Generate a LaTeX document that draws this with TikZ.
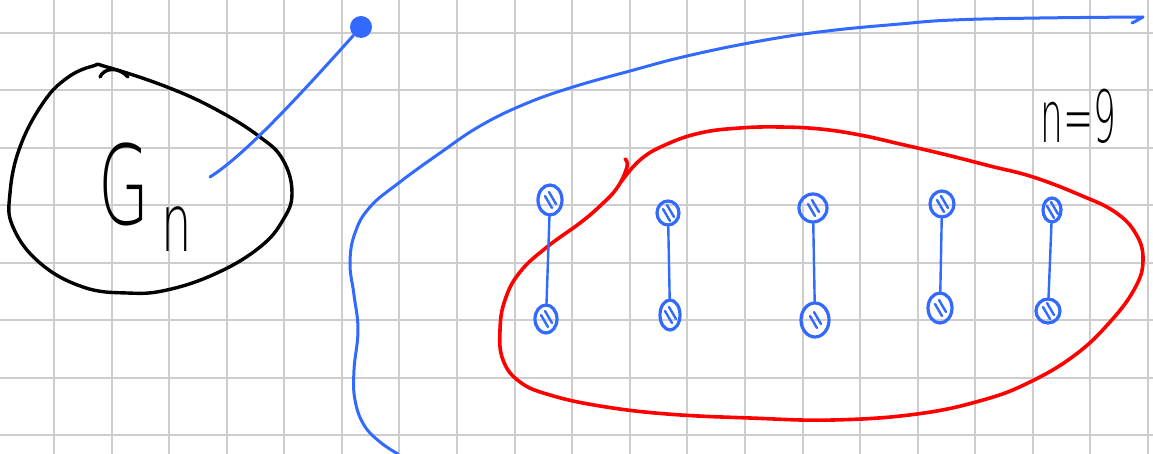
\documentclass[tikz,border=0pt]{standalone}
\usepackage{fontspec}
\usepackage{graphicx}
\usetikzlibrary{shapes.geometric}
\IfFontExistsTF{DejaVu Sans ExtraLight}{\newfontfamily\hand{DejaVu Sans ExtraLight}}{\newfontfamily\hand{DejaVu Sans}}
\definecolor{gridc}{RGB}{205,205,205}
\definecolor{pen}{RGB}{50,105,255}
\definecolor{redpen}{RGB}{255,0,0}
\begin{document}
\begin{tikzpicture}[x=0.5pt,y=-0.5pt,line cap=round,line join=round,
  gridline/.style={gridc,line width=1pt},
  blackink/.style={black,line width=1.7pt},
  blueink/.style={pen,line width=1.5pt},
  redink/.style={redpen,line width=1.8pt},
  edgeline/.style={pen,line width=1.2pt},
  vtx/.style={ellipse,draw=pen,line width=1.6pt,inner sep=0pt,minimum width=11pt,minimum height=13pt,
    path picture={\draw[pen,line width=1.2pt]
      ([xshift=-2.5pt,yshift=2pt]path picture bounding box.center) -- ([xshift=1pt,yshift=-4pt]path picture bounding box.center)
      ([xshift=-0.5pt,yshift=4pt]path picture bounding box.center) -- ([xshift=3pt,yshift=-2pt]path picture bounding box.center);}},
  bigdot/.style={circle,fill=pen,inner sep=0pt,minimum size=11pt},
  handtext/.style={inner sep=0pt,anchor=base west,font=\hand}]
\useasboundingbox (0,0) rectangle (1153,454);
\fill[white] (0,0) rectangle (1153,454);
% grid
\foreach \i in {0,...,19} \draw[gridline] ({54+57.58*\i},0) -- ({54+57.58*\i},454);
\foreach \j in {0,...,7} \draw[gridline] (0,{33+57.5*\j}) -- (1153,{33+57.5*\j});
% black blob G_n
\draw[blackink] plot[smooth cycle,tension=0.7] coordinates {(107,67) (167,87) (217,110) (260,137) (283,160) (292,193) (283,220) (260,247) (217,273) (167,290) (127,293) (83,287) (40,263) (13,227) (10,193) (20,147) (43,103) (67,78) (93,66)};
\draw[blackink] (100,77) .. controls (104,68) and (118,66) .. (128,77);
\node[handtext] (gn) at (98,225) {\scalebox{0.6}[1]{\fontsize{55}{55}\selectfont G\hspace{10pt}\raisebox{-13.5pt}{\fontsize{40}{40}\selectfont n}}};
% connector from G_n to a vertex
\coordinate (gs) at (210,177);
\node[bigdot] (dot) at (361,27) {};
\draw[blueink] (gs) .. controls (245,155) and (300,95) .. (dot);
% big blue curve
\draw[blueink] plot[smooth,tension=0.7] coordinates {(398,454) (380,442) (364,425) (355,400) (354,370) (358,330) (354,295) (350,263) (355,233) (370,207) (400,182) (440,153) (480,126) (525,104) (573,87) (630,71) (687,56) (760,41) (827,31) (900,24) (953,20) (1040,18) (1143,17)} -- (1136,21) -- (1132,23);
% red curve
\draw[redink] plot[smooth,tension=0.7] coordinates {(625,159) (627,167) (617,188) (600,206) (580,223) (547,247) (520,272) (505,300) (500,330) (503,360) (520,382) (550,395) (600,406) (667,414) (750,418) (833,420) (917,414) (983,400) (1030,382) (1075,355) (1110,322) (1135,288) (1143,260) (1136,234) (1115,212) (1080,195) (1033,177) (990,166) (947,155) (900,144) (860,135) (820,129) (780,127) (740,128) (700,133) (665,145) (640,160) (621,182)};
% label n=9
\node[handtext] (lbl) at (1040,143) {\scalebox{0.5}[1]{\fontsize{36}{36}\selectfont n=9}};
% vertices and matching edges
\node[vtx,minimum width=12pt,minimum height=15pt] (t1) at (550,200) {};
\node[vtx,minimum width=11pt,minimum height=14pt] (b1) at (546,319) {};
\node[vtx,minimum width=11pt,minimum height=12pt] (t2) at (668,213) {};
\node[vtx,minimum width=10pt,minimum height=15pt] (b2) at (670,315) {};
\node[vtx,minimum width=14pt,minimum height=14pt] (t3) at (813,208) {};
\node[vtx,minimum width=14pt,minimum height=17pt] (b3) at (815,320) {};
\node[vtx,minimum width=12pt,minimum height=13pt] (t4) at (942,204) {};
\node[vtx,minimum width=12pt,minimum height=15pt] (b4) at (940,308) {};
\node[vtx,minimum width=9pt,minimum height=12pt] (t5) at (1052,210) {};
\node[vtx,minimum width=12pt,minimum height=12pt] (b5) at (1048,311) {};
\foreach \k in {1,...,5} \draw[edgeline] (t\k) -- (b\k);
\end{tikzpicture}
\end{document}
